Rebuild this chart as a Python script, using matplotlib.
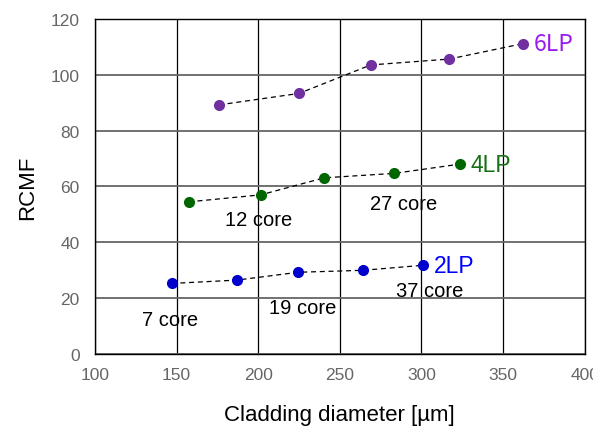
import numpy as np
import matplotlib
matplotlib.use("Agg")
import matplotlib.pyplot as plt

plt.rcParams['font.family'] = ['Liberation Sans', 'DejaVu Sans']

# datos
x_2lp = [147, 187, 224.5, 264, 301]
y_2lp = [25.3, 26.5, 29.3, 30.0, 31.8]
x_4lp = [157.5, 201.5, 240.5, 283.5, 323.5]
y_4lp = [54.5, 57.0, 63.1, 64.7, 68.0]
x_6lp = [176, 225, 269, 317, 362]
y_6lp = [89.2, 93.3, 103.5, 105.6, 111.1]

series_names = ["2LP", "4LP", "6LP"]
core_labels = ["7 core", "12 core", "19 core", "27 core", "37 core"]

xticks = [100, 150, 200, 250, 300, 350, 400]
yticks = [0, 20, 40, 60, 80, 100, 120]

fig = plt.figure(figsize=(5.93, 4.31), dpi=100)
ax = fig.add_axes([0.160, 0.176, 0.826, 0.778])

colores = ["#0000CC", "#006600", "#7030A0"]
colores_txt = ["#0000FF", "#157015", "#9B1AF0"]
datos = [(x_2lp, y_2lp), (x_4lp, y_4lp), (x_6lp, y_6lp)]

for (xs, ys), c, ct, nom in zip(datos, colores, colores_txt, series_names):
    ax.plot(xs, ys, linestyle=(0, (4, 3)), color="black", lw=0.9, zorder=3)
    ax.plot(xs, ys, "o", color=c, ms=7, zorder=4)
    fam = ['Noto Sans CJK JP', 'DejaVu Sans'] if nom == "6LP" else ['Liberation Sans', 'DejaVu Sans']
    ax.annotate(nom, (xs[-1], ys[-1]), xytext=(8, 0), textcoords="offset points",
                color=ct, fontsize=16.5, va="center", ha="left", family=fam,
                annotation_clip=False, zorder=5)

# etiquetas de cores
pos_cores = [(146, 12.5), (200.5, 48.2), (227, 16.8), (289, 54.0), (305, 22.9)]
for txt, (px, py) in zip(core_labels, pos_cores):
    ax.text(px, py, txt, fontsize=14.5, ha="center", va="center", color="black", zorder=5)

ax.set_xlim(100, 400)
ax.set_ylim(0, 120)
ax.set_xticks(xticks)
ax.set_yticks(yticks)
ax.grid(axis="x", color="black", lw=0.9, zorder=0)
ax.grid(axis="y", color="#666666", lw=1.3, zorder=0)
ax.tick_params(length=0, labelsize=12.5, labelcolor="#666666")
ax.tick_params(axis="y", pad=11)
ax.tick_params(axis="x", pad=9)
for s in ax.spines.values():
    s.set_color("black")
    s.set_linewidth(1.0)

ax.set_xlabel("Cladding diameter [\u00b5m]", fontsize=16, labelpad=16)
ax.set_ylabel("RCMF", fontsize=16, labelpad=9)

fig.savefig("out.png", dpi=100)
